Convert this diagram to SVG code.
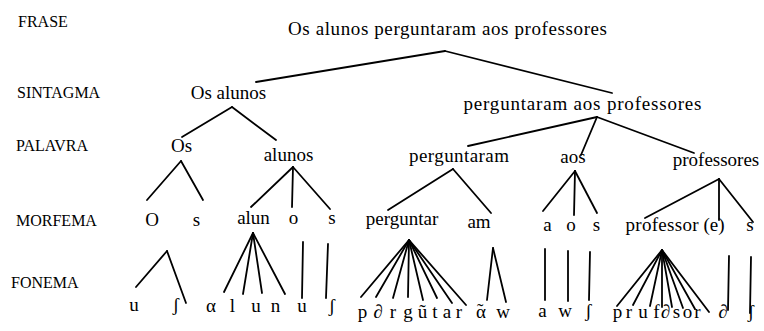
<svg xmlns="http://www.w3.org/2000/svg" width="764" height="331" viewBox="0 0 764 331">
<style>
text{font-family:"Liberation Serif","DejaVu Serif","Times New Roman",serif;fill:#000}
.lv{font-size:16px}
.n{font-size:19px;text-anchor:middle}
.p{font-size:19px;text-anchor:middle}
#connectors line{stroke:#000;stroke-width:1.8;stroke-linecap:round}
</style>
<rect width="764" height="331" fill="#fff"/>
<g id="levels">
<text class="lv" x="18" y="27">FRASE</text>
<text class="lv" x="17" y="98">SINTAGMA</text>
<text class="lv" x="16" y="151">PALAVRA</text>
<text class="lv" x="16" y="226">MORFEMA</text>
<text class="lv" x="11" y="288">FONEMA</text>
</g>
<g id="connectors">
<line x1="445" y1="51" x2="256" y2="82"/>
<line x1="445" y1="51" x2="612" y2="93"/>
<line x1="232" y1="107" x2="182" y2="137"/>
<line x1="232" y1="107" x2="276" y2="140"/>
<line x1="597" y1="117" x2="468" y2="146"/>
<line x1="597" y1="117" x2="581" y2="155"/>
<line x1="597" y1="117" x2="694" y2="153"/>
<line x1="181" y1="161" x2="147" y2="200"/>
<line x1="181" y1="161" x2="203" y2="200"/>
<line x1="293" y1="167" x2="251" y2="207"/>
<line x1="293" y1="167" x2="292" y2="207"/>
<line x1="293" y1="167" x2="330" y2="209"/>
<line x1="453" y1="169" x2="388" y2="210"/>
<line x1="453" y1="169" x2="491" y2="213"/>
<line x1="575" y1="171" x2="543" y2="211"/>
<line x1="575" y1="171" x2="574" y2="215"/>
<line x1="575" y1="171" x2="597" y2="213"/>
<line x1="719" y1="179" x2="645" y2="218"/>
<line x1="719" y1="179" x2="719" y2="220"/>
<line x1="719" y1="179" x2="753" y2="222"/>
<line x1="167" y1="251" x2="136" y2="287"/>
<line x1="167" y1="251" x2="186" y2="303"/>
<line x1="253" y1="233" x2="224" y2="292"/>
<line x1="253" y1="233" x2="243" y2="294"/>
<line x1="253" y1="233" x2="262" y2="293"/>
<line x1="253" y1="233" x2="285" y2="294"/>
<line x1="303" y1="242" x2="302" y2="298"/>
<line x1="328" y1="244" x2="326" y2="298"/>
<line x1="409" y1="240" x2="361" y2="297"/>
<line x1="409" y1="240" x2="376" y2="297"/>
<line x1="409" y1="240" x2="393" y2="298"/>
<line x1="409" y1="240" x2="408" y2="297"/>
<line x1="409" y1="240" x2="423" y2="300"/>
<line x1="409" y1="240" x2="437" y2="298"/>
<line x1="409" y1="240" x2="452" y2="303"/>
<line x1="409" y1="240" x2="466" y2="305"/>
<line x1="493" y1="248" x2="487" y2="300"/>
<line x1="493" y1="248" x2="506" y2="302"/>
<line x1="545" y1="249" x2="545" y2="300"/>
<line x1="568" y1="251" x2="568" y2="301"/>
<line x1="590" y1="252" x2="589" y2="300"/>
<line x1="662" y1="250" x2="617" y2="306"/>
<line x1="662" y1="250" x2="633" y2="305"/>
<line x1="662" y1="250" x2="650" y2="306"/>
<line x1="662" y1="250" x2="662" y2="307"/>
<line x1="662" y1="250" x2="672" y2="307"/>
<line x1="662" y1="250" x2="683" y2="308"/>
<line x1="662" y1="250" x2="695" y2="309"/>
<line x1="662" y1="250" x2="709" y2="312"/>
<line x1="729" y1="256" x2="728" y2="310"/>
<line x1="751" y1="257" x2="750" y2="313"/>
</g>
<g id="frase"><text class="n" x="447.5" y="35" textLength="319" lengthAdjust="spacing">Os alunos perguntaram aos professores</text></g>
<g id="sint-os-alunos"><text class="n" x="228.5" y="99">Os alunos</text></g>
<g id="sint-perguntaram"><text class="n" x="582.5" y="110" textLength="238" lengthAdjust="spacing">perguntaram aos professores</text></g>
<g id="pal-os"><text class="n" x="181.5" y="152">Os</text></g>
<g id="pal-alunos"><text class="n" x="288.5" y="161">alunos</text></g>
<g id="pal-perguntaram"><text class="n" x="459" y="162" textLength="100" lengthAdjust="spacing">perguntaram</text></g>
<g id="pal-aos"><text class="n" x="573" y="163">aos</text></g>
<g id="pal-professores"><text class="n" x="716" y="166">professores</text></g>
<g id="mor-O"><text class="n" x="152" y="226">O</text></g>
<g id="mor-s1"><text class="n" x="196.5" y="226">s</text></g>
<g id="mor-alun"><text class="n" x="253.5" y="224">alun</text></g>
<g id="mor-o"><text class="n" x="293.5" y="224">o</text></g>
<g id="mor-s2"><text class="n" x="332" y="224">s</text></g>
<g id="mor-perguntar"><text class="n" x="402" y="225">perguntar</text></g>
<g id="mor-am"><text class="n" x="479" y="228">am</text></g>
<g id="mor-a"><text class="n" x="547.5" y="231">a</text></g>
<g id="mor-o2"><text class="n" x="571" y="231">o</text></g>
<g id="mor-s3"><text class="n" x="596.5" y="231">s</text></g>
<g id="mor-professor"><text class="n" x="662" y="231" textLength="73" lengthAdjust="spacing">professor</text></g>
<g id="mor-e"><text class="n" x="714" y="231">(e)</text></g>
<g id="mor-s4"><text class="n" x="750" y="231">s</text></g>
<g id="fon-os">
<text class="p" x="134" y="311">u</text>
<text class="p" x="176" y="311">ʃ</text>
</g>
<g id="fon-alun">
<text class="p" x="211" y="312">α</text>
<text class="p" x="232.5" y="312">l</text>
<text class="p" x="256" y="312">u</text>
<text class="p" x="275.5" y="312">n</text>
</g>
<g id="fon-o"><text class="p" x="302" y="312">u</text></g>
<g id="fon-s"><text class="p" x="332" y="312">ʃ</text></g>
<g id="fon-perguntar">
<text class="p" x="362.5" y="318">p</text>
<text class="p" x="378" y="318">∂</text>
<text class="p" x="393" y="318">r</text>
<text class="p" x="408" y="318">g</text>
<text class="p" x="422.5" y="318">ũ</text>
<text class="p" x="435" y="318">t</text>
<text class="p" x="447" y="318">a</text>
<text class="p" x="459" y="318">r</text>
</g>
<g id="fon-am">
<text x="476" y="318" font-size="19">α<tspan dx="-9" dy="-1">˜</tspan></text>
<text class="p" x="503" y="318">w</text>
</g>
<g id="fon-aos">
<text class="p" x="542.5" y="317">a</text>
<text class="p" x="565" y="317">w</text>
<text class="p" x="588.5" y="317">ʃ</text>
</g>
<g id="fon-professor">
<text class="p" x="617.5" y="318">p</text>
<text class="p" x="629" y="318">r</text>
<text class="p" x="643" y="318">u</text>
<text class="p" x="656.5" y="318">f</text>
<text class="p" x="665.5" y="318">∂</text>
<text class="p" x="676.5" y="318">s</text>
<text class="p" x="687.5" y="318">o</text>
<text class="p" x="697.5" y="318">r</text>
</g>
<g id="fon-e"><text class="p" x="723" y="318">∂</text></g>
<g id="fon-s2"><text class="p" x="751" y="318">ʃ</text></g>
</svg>
